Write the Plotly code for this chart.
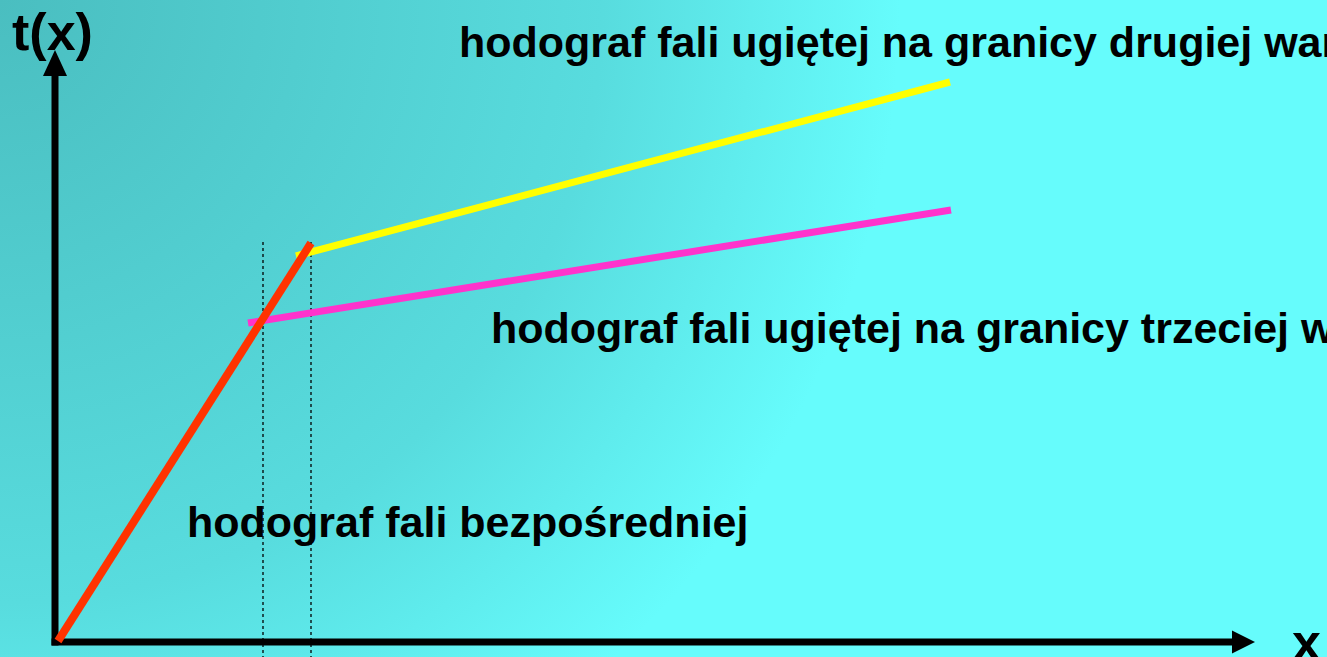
import base64
import plotly.graph_objects as go

# ---- data (x: distance units, t: time units) ----
x_direct = [0.3, 25.6]
t_direct = [0.1, 39.9]

x_refr2 = [24.1, 89.5]
t_refr2 = [38.6, 56.0]

x_refr3 = [19.3, 89.6]
t_refr3 = [31.9, 43.2]

x_crossover = [20.8, 25.6]
t_crossover_top = 40.0

label_refr2 = "hodograf fali ugiętej na granicy drugiej warstwy"
label_refr3 = "hodograf fali ugiętej na granicy trzeciej warstwy"
label_direct = "hodograf fali bezpośredniej"
y_title = "t(x)"
x_title = "x"

W, H = 1327, 657
X_RANGE = [-5.5, 127.2]
Y_RANGE = [-1.5, 64.2]

FONT = "Liberation Sans, Arial, sans-serif"

# background gradient (radial from top-left corner)
svg = f'''<svg xmlns="http://www.w3.org/2000/svg" width="{W}" height="{H}">
<defs><radialGradient id="g" gradientUnits="userSpaceOnUse" cx="0" cy="0" r="900">
<stop offset="0" stop-color="#4ABEC0"/>
<stop offset="0.67" stop-color="#58DCDE"/>
<stop offset="1" stop-color="#66FCFC"/>
</radialGradient></defs>
<rect width="{W}" height="{H}" fill="url(#g)"/></svg>'''
bg_uri = "data:image/svg+xml;base64," + base64.b64encode(svg.encode()).decode()

fig = go.Figure()

fig.add_trace(go.Scatter(x=x_refr3, y=t_refr3, mode="lines",
                         line=dict(color="#FF33CC", width=7), hoverinfo="skip"))
fig.add_trace(go.Scatter(x=x_refr2, y=t_refr2, mode="lines",
                         line=dict(color="#FFFF00", width=7), hoverinfo="skip"))
fig.add_trace(go.Scatter(x=x_direct, y=t_direct, mode="lines",
                         line=dict(color="#FF3300", width=8), hoverinfo="skip"))

shapes = []
# dotted crossover lines
for xc in x_crossover:
    shapes.append(dict(type="line", xref="x", yref="y", x0=xc, x1=xc,
                       y0=t_crossover_top, y1=Y_RANGE[0] - 1,
                       line=dict(color="black", width=1.3, dash="dot"), layer="below"))
# axes with arrows
shapes.append(dict(type="line", xref="x", yref="y", x0=0, x1=0, y0=-0.35, y1=57.0,
                   line=dict(color="black", width=7), layer="below"))
shapes.append(dict(type="path", xref="x", yref="y",
                   path="M -1.2 56.6 L 0 59.2 L 1.2 56.6 Z",
                   fillcolor="black", line=dict(color="black", width=0), layer="below"))
shapes.append(dict(type="line", xref="x", yref="y", x0=-0.35, x1=118.0, y0=0, y1=0,
                   line=dict(color="black", width=7), layer="below"))
shapes.append(dict(type="path", xref="x", yref="y",
                   path="M 117.7 -1.15 L 120.0 0 L 117.7 1.15 Z",
                   fillcolor="black", line=dict(color="black", width=0), layer="below"))

def px_x(p):
    return p / W

def px_y(p):
    return 1 - p / H

annotations = [
    dict(text=f"<b>{y_title}</b>", x=px_x(52), y=px_y(32), xref="paper", yref="paper",
         xanchor="center", yanchor="middle", showarrow=False,
         font=dict(family=FONT, size=52, color="black")),
    dict(text=f"<b>{x_title}</b>", x=px_x(1306), y=px_y(642), xref="paper", yref="paper",
         xanchor="center", yanchor="middle", showarrow=False,
         font=dict(family=FONT, size=52, color="black")),
    dict(text=f"<b>{label_refr2}</b>", x=px_x(457), y=px_y(42), xref="paper", yref="paper",
         xanchor="left", yanchor="middle", showarrow=False,
         font=dict(family=FONT, size=43, color="black")),
    dict(text=f"<b>{label_refr3}</b>", x=px_x(489), y=px_y(328), xref="paper", yref="paper",
         xanchor="left", yanchor="middle", showarrow=False,
         font=dict(family=FONT, size=43, color="black")),
    dict(text=f"<b>{label_direct}</b>", x=px_x(185), y=px_y(522), xref="paper", yref="paper",
         xanchor="left", yanchor="middle", showarrow=False,
         font=dict(family=FONT, size=43, color="black")),
]

fig.update_layout(
    width=W, height=H, autosize=False,
    margin=dict(l=0, r=0, t=0, b=0, pad=0),
    paper_bgcolor="#66FCFC", plot_bgcolor="rgba(0,0,0,0)",
    showlegend=False,
    xaxis=dict(range=X_RANGE, visible=False, fixedrange=True),
    yaxis=dict(range=Y_RANGE, visible=False, fixedrange=True),
    shapes=shapes,
    annotations=annotations,
    images=[dict(source=bg_uri, xref="paper", yref="paper", x=0, y=1,
                 sizex=1, sizey=1, sizing="stretch", xanchor="left", yanchor="top",
                 layer="below")],
)

fig.write_html("out.html", config={"displayModeBar": False},
               post_script="document.body.style.margin='0';document.body.style.overflow='hidden';")
